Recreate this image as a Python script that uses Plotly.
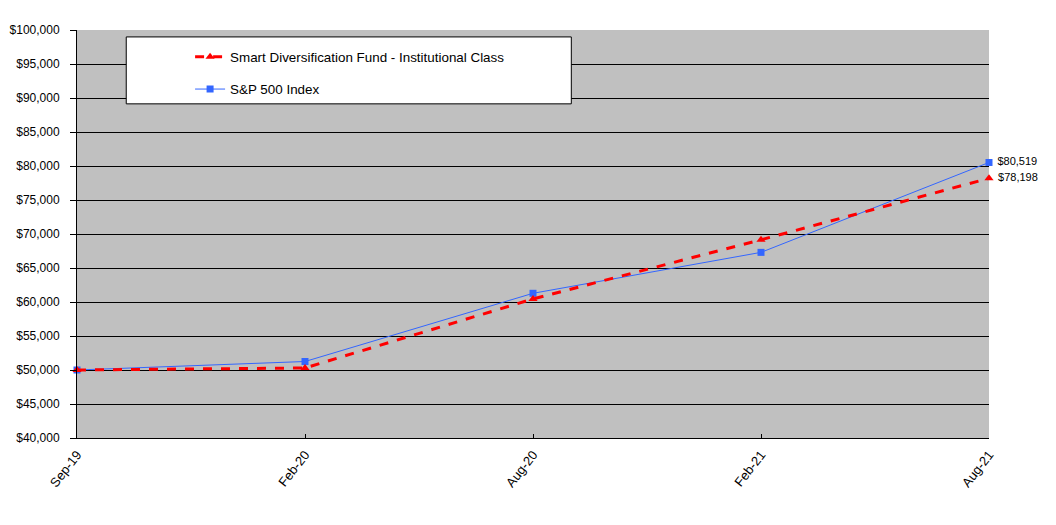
import plotly.graph_objects as go

dates = ["Sep-19", "Feb-20", "Aug-20", "Feb-21", "Aug-21"]
fund_values = [50000, 50300, 60450, 69150, 78198]
sp500_values = [50000, 51250, 61280, 67300, 80519]
fund_name = "Smart Diversification Fund - Institutional Class"
sp500_name = "S&P 500 Index"
y_ticks = list(range(40000, 100001, 5000))
y_tick_labels = [f"${v:,}" for v in y_ticks]

FONT = "Liberation Sans, Arial, sans-serif"

def end_labels(vals):
    return [""] * (len(vals) - 1) + [f" ${vals[-1]:,}"]

fig = go.Figure()
fig.add_trace(go.Scatter(
    x=dates, y=sp500_values, name=sp500_name, mode="lines+markers+text",
    line=dict(color="#3366FF", width=1),
    marker=dict(symbol="square", size=7, color="#3366FF"),
    text=end_labels(sp500_values), textposition="middle right",
    textfont=dict(family=FONT, size=11, color="black"),
    legendgroup="b", legendrank=2, cliponaxis=False,
))
fig.add_trace(go.Scatter(
    x=dates, y=fund_values, name=fund_name, mode="lines+markers+text",
    line=dict(color="#FF0000", width=3, dash="dash"),
    marker=dict(symbol="triangle-up", size=8, color="#FF0000"),
    text=end_labels(fund_values), textposition="middle right",
    textfont=dict(family=FONT, size=11, color="black"),
    legendgroup="a", legendrank=1, cliponaxis=False,
))

fig.add_shape(type="rect", xref="paper", yref="paper",
              x0=0.054, x1=0.542, y0=0.819, y1=0.983,
              fillcolor="white", line=dict(color="black", width=1), layer="above")

fig.update_layout(
    width=1040, height=509,
    margin=dict(l=69, r=59, t=22, b=79, autoexpand=False),
    paper_bgcolor="white", plot_bgcolor="#C0C0C0",
    font=dict(family=FONT, size=12, color="black"),
    showlegend=True,
    legend=dict(x=0.124, y=0.972, xanchor="left", yanchor="top",
                bgcolor="rgba(0,0,0,0)", borderwidth=0,
                font=dict(family=FONT, size=13.4), tracegroupgap=12,
                traceorder="grouped"),
    xaxis=dict(type="category", range=[0, 4], showgrid=False, automargin=False,
               showline=True, linecolor="black", linewidth=1, mirror=False,
               ticks="inside", ticklen=4, tickcolor="black", tickangle=-52,
               ticklabelstandoff=3,
               tickfont=dict(family=FONT, size=13)),
    yaxis=dict(range=[40000, 100000], tickvals=y_ticks, ticktext=y_tick_labels,
               showgrid=True, gridcolor="black", gridwidth=1, automargin=False,
               showline=True, linecolor="black", linewidth=1,
               ticks="outside", ticklen=6, tickcolor="black", zeroline=False,
               ticklabelstandoff=8,
               tickfont=dict(family=FONT, size=12)),
)

fig.write_html("out.html")
